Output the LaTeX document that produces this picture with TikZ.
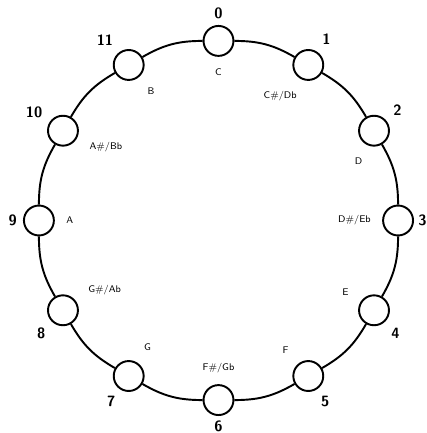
\documentclass[tikz,border=0pt]{standalone}
\usepackage{tikz}
\tikzset{
  pc/.style={circle, draw=black, fill=white, line width=1.1pt,
             minimum size=6mm, inner sep=0pt},
  pcw/.style={line width=1.1pt},
  pcnum/.style={font=\sffamily\bfseries\fontsize{8.5}{9}\selectfont, label distance=0pt},
  pcnote/.style={font=\sffamily\fontsize{5.5}{6}\selectfont, label distance=3pt}
}

\begin{document}
\begin{tikzpicture}
  \useasboundingbox (-4.38,-4.26) rectangle (4.16,4.42);
  \node[pc, label={[pcnum]90:0},   label={[pcnote]270:C}]     (n0)  at (90:3.6)  {};
  \node[pc, label={[pcnum]60:1},   label={[pcnote]255:C\#/Db}] (n1)  at (60:3.6)  {};
  \node[pc, label={[pcnum]35:2},   label={[pcnote]255:D}]     (n2)  at (30:3.6)  {};
  \node[pc, label={[pcnum, label distance=-1pt]0:3}, label={[pcnote]180:D\#/Eb}] (n3) at (0:3.6) {};
  \node[pc, label={[pcnum]315:4},  label={[pcnote]155:E}]     (n4)  at (-30:3.6) {};
  \node[pc, label={[pcnum]295:5},  label={[pcnote]130:F}]     (n5)  at (-60:3.6) {};
  \node[pc, label={[pcnum, label distance=-1pt]270:6}, label={[pcnote]90:F\#/Gb}] (n6) at (-90:3.6) {};
  \node[pc, label={[pcnum]243:7},  label={[pcnote]64:G}]      (n7)  at (-120:3.6) {};
  \node[pc, label={[pcnum]224:8},  label={[pcnote]25:G\#/Ab}]  (n8)  at (-150:3.6) {};
  \node[pc, label={[pcnum]180:9},  label={[pcnote]0:A}]       (n9)  at (180:3.6) {};
  \node[pc, label={[pcnum]156:10}, label={[pcnote]344:A\#/Bb}] (n10) at (150:3.6) {};
  \node[pc, label={[pcnum]126:11}, label={[pcnote]307:B}]     (n11) at (120:3.6) {};
  % semitone steps round the circle
  \draw[pcw] (n0) to[bend left=15] (n1);
  \draw[pcw] (n1) to[bend left=15] (n2);
  \draw[pcw] (n2) to[bend left=15] (n3);
  \draw[pcw] (n3) to[bend left=15] (n4);
  \draw[pcw] (n4) to[bend left=15] (n5);
  \draw[pcw] (n5) to[bend left=15] (n6);
  \draw[pcw] (n6) to[bend left=15] (n7);
  \draw[pcw] (n7) to[bend left=15] (n8);
  \draw[pcw] (n8) to[bend left=15] (n9);
  \draw[pcw] (n9) to[bend left=15] (n10);
  \draw[pcw] (n10) to[bend left=15] (n11);
  \draw[pcw] (n11) to[bend left=15] (n0);
\end{tikzpicture}
\end{document}
